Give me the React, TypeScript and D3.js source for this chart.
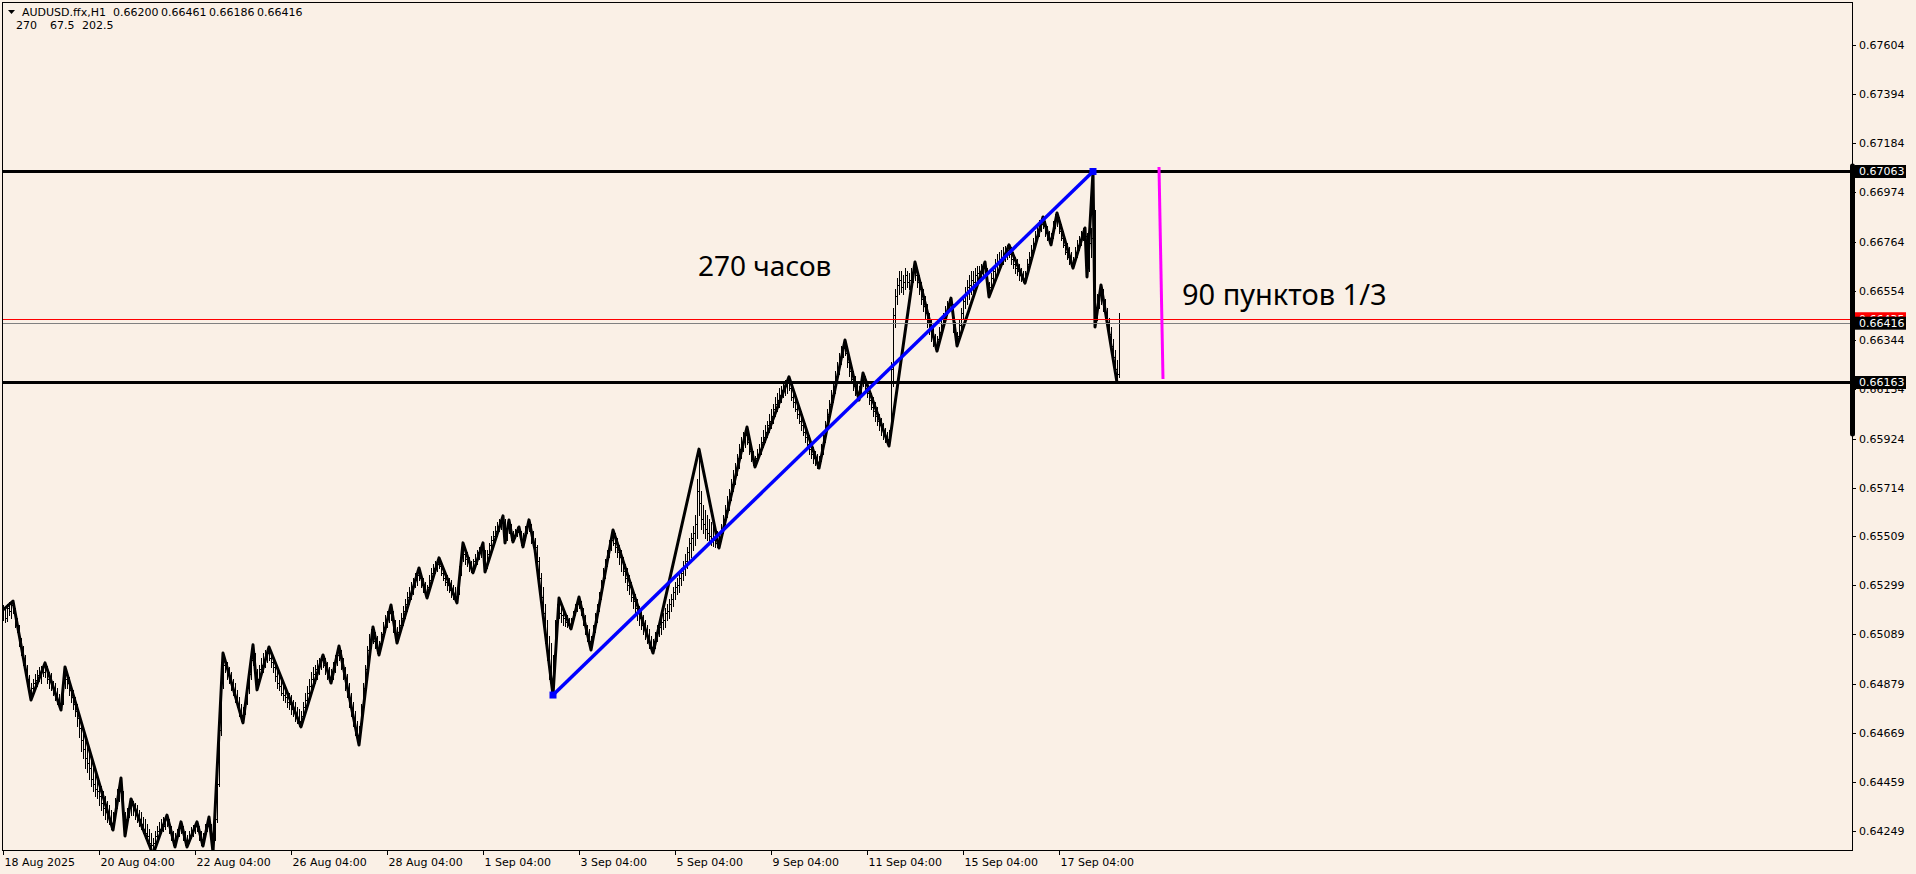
import React from "react";
import * as d3 from "d3";

// prices stored as points (1e-5) above BASE
const BASE = 0.64;
const firstOpen = 1180;

const barLow = [
1150,1140,1145,1170,1160,1180,1120,1100,1040,1000,
960,920,870,830,809,840,860,870,890,880,
910,905,880,860,850,830,810,790,780,766,
790,860,860,830,800,770,740,700,650,590,
560,520,500,470,440,420,400,390,360,340,
320,300,290,280,260,254,300,350,380,390,
300,229,280,310,320,320,300,290,270,260,
240,220,200,180,170,150,180,200,220,240,
250,260,270,240,210,190,182,210,230,240,
210,190,182,200,220,230,240,250,210,190,
186,220,250,260,190,160,210,290,440,660,
860,930,900,880,850,830,800,780,740,720,
711,750,790,840,900,960,900,852,880,910,
930,950,970,980,950,930,890,860,850,830,
810,800,780,770,750,740,720,710,700,694,
720,760,790,820,850,870,880,900,920,940,
950,920,900,890,881,900,930,960,980,940,
900,850,820,780,740,700,660,640,617,680,
760,840,920,980,1030,1050,1030,1010,1001,1030,
1070,1100,1120,1140,1150,1100,1070,1052,1080,1110,
1130,1160,1190,1220,1240,1260,1290,1300,1320,1290,
1270,1255,1244,1270,1300,1330,1350,1360,1370,1340,
1320,1300,1280,1270,1250,1240,1230,1223,1260,1340,
1400,1390,1380,1360,1355,1351,1380,1390,1410,1420,
1430,1355,1370,1410,1440,1470,1490,1510,1530,1540,
1560,1479,1490,1520,1490,1483,1500,1510,1515,1470,
1462,1490,1520,1530,1480,1460,1449,1380,1300,1220,
1150,1050,980,900,850,830,960,1100,1160,1140,
1130,1125,1120,1115,1112,1140,1170,1190,1200,1170,
1130,1090,1060,1040,1022,1060,1100,1140,1190,1240,
1290,1330,1380,1420,1450,1470,1440,1420,1390,1360,
1340,1310,1280,1260,1230,1200,1180,1150,1130,1110,
1090,1070,1050,1030,1020,1009,1030,1060,1080,1090,
1110,1120,1150,1160,1190,1210,1240,1260,1270,1300,
1320,1340,1370,1400,1420,1450,1470,1500,1600,1540,
1520,1500,1490,1480,1470,1465,1460,1460,1457,1490,
1520,1560,1590,1620,1660,1700,1730,1770,1800,1840,
1870,1890,1900,1860,1830,1810,1803,1830,1850,1860,
1890,1910,1930,1950,1970,1990,2020,2040,2060,2080,
2100,2110,2120,2130,2090,2060,2040,2010,1990,1960,
1940,1910,1890,1860,1840,1820,1810,1800,1798,1830,
1860,1910,1960,2000,2040,2080,2120,2160,2200,2240,
2270,2280,2230,2190,2160,2130,2110,2095,2088,2120,
2150,2120,2100,2070,2050,2020,2000,1980,1960,1940,
1920,1910,1900,1892,1940,2150,2400,2500,2540,2550,
2540,2560,2570,2560,2580,2590,2600,2570,2540,2500,
2470,2440,2400,2370,2340,2320,2305,2297,2330,2360,
2390,2420,2450,2470,2480,2380,2340,2319,2350,2390,
2440,2480,2500,2520,2540,2550,2560,2580,2590,2600,
2610,2620,2560,2528,2560,2590,2610,2630,2640,2660,
2670,2680,2690,2700,2670,2650,2630,2620,2600,2595,
2590,2587,2620,2650,2680,2710,2740,2770,2790,2810,
2820,2790,2770,2760,2750,2780,2820,2830,2800,2770,
2740,2710,2690,2670,2660,2651,2680,2700,2730,2750,
2770,2780,2613,2640,2700,2680,2400,2430,2480,2500,
2470,2440,2400,2350,2300,2250,2200,2163,2186
];

const barHigh = [
1215,1205,1220,1225,1228,1231,1200,1160,1130,1075,
1040,1000,960,915,880,900,920,935,950,955,
960,967,955,930,925,890,880,860,835,820,
900,950,925,905,870,850,820,790,750,720,
680,640,610,590,560,520,500,470,460,440,
420,400,380,360,340,330,390,430,450,476,
420,330,350,370,387,380,370,360,340,330,
310,300,280,260,240,220,250,270,290,300,
310,315,318,300,270,250,240,260,280,289,
270,250,235,250,265,275,285,289,270,250,
240,280,300,310,280,230,320,480,700,900,
1009,990,970,950,930,900,880,850,820,790,
780,830,880,940,1000,1044,1010,940,960,990,
1010,1020,1030,1035,1010,990,970,940,920,900,
880,870,850,840,830,810,800,780,770,760,
800,840,870,900,930,950,960,980,990,995,
1001,990,970,950,940,970,1000,1030,1039,1020,
990,950,920,880,840,800,760,720,700,790,
880,960,1040,1090,1110,1120,1100,1080,1060,1100,
1140,1170,1190,1200,1214,1190,1150,1120,1150,1180,
1210,1240,1270,1290,1310,1330,1350,1360,1372,1350,
1330,1310,1300,1340,1370,1390,1400,1410,1415,1400,
1380,1360,1340,1330,1320,1300,1290,1280,1380,1440,
1479,1460,1440,1420,1400,1410,1430,1450,1460,1470,
1479,1450,1450,1480,1510,1530,1550,1570,1580,1590,
1594,1580,1560,1577,1560,1530,1540,1545,1547,1530,
1520,1550,1570,1577,1560,1530,1500,1470,1420,1350,
1290,1220,1150,1080,1050,1000,1150,1220,1244,1210,
1190,1180,1170,1160,1160,1190,1220,1240,1248,1230,
1200,1170,1130,1110,1080,1130,1180,1220,1270,1320,
1370,1410,1450,1490,1520,1534,1520,1500,1470,1450,
1420,1390,1370,1340,1310,1280,1260,1240,1210,1190,
1170,1150,1130,1110,1080,1070,1100,1130,1150,1160,
1180,1200,1220,1240,1260,1290,1310,1330,1350,1370,
1400,1430,1460,1500,1520,1550,1600,1750,1879,1700,
1640,1620,1600,1580,1570,1560,1540,1530,1520,1560,
1600,1640,1680,1710,1750,1790,1820,1860,1900,1930,
1950,1965,1973,1940,1900,1870,1850,1880,1900,1930,
1960,1980,2000,2030,2050,2070,2100,2120,2140,2150,
2165,2175,2180,2187,2170,2140,2110,2090,2060,2040,
2010,1990,1960,1940,1910,1890,1870,1860,1850,1900,
1950,2000,2050,2090,2130,2170,2210,2250,2290,2320,
2335,2344,2320,2280,2240,2210,2190,2160,2150,2190,
2204,2190,2170,2150,2120,2100,2080,2060,2030,2010,
1990,1970,1950,1960,2250,2480,2560,2610,2640,2640,
2620,2650,2640,2630,2650,2660,2677,2650,2620,2590,
2560,2530,2500,2460,2430,2400,2370,2360,2400,2430,
2460,2490,2510,2520,2523,2500,2420,2380,2430,2480,
2530,2570,2600,2620,2640,2640,2650,2660,2660,2670,
2670,2677,2650,2590,2630,2660,2690,2710,2720,2730,
2740,2745,2748,2750,2740,2720,2700,2690,2670,2650,
2640,2640,2690,2720,2750,2780,2810,2840,2855,2860,
2869,2850,2830,2810,2800,2850,2880,2886,2870,2840,
2810,2780,2760,2740,2720,2700,2740,2770,2790,2810,
2820,2822,2800,2790,2820,3063,2900,2540,2560,2579,
2560,2520,2480,2440,2400,2350,2300,2260,2461
];

const barClose = [
1195,1160,1200,1190,1215,1190,1135,1110,1060,1020,
985,940,900,850,860,880,895,915,905,940,
930,945,900,910,870,860,830,800,790,805,
885,900,880,850,820,790,760,730,690,640,
600,560,540,520,470,450,430,420,400,370,
350,330,310,300,280,320,370,400,420,400,
320,300,330,350,360,340,330,310,300,280,
260,240,230,200,190,200,230,250,260,280,
270,300,290,250,230,200,220,250,270,250,
220,200,210,230,245,260,270,255,220,200,
230,270,290,270,200,220,300,450,680,880,
960,950,920,900,870,850,820,790,760,740,
760,810,860,920,980,990,920,900,940,960,
980,1000,1010,990,970,950,910,880,870,840,
830,820,800,790,770,760,740,730,720,740,
780,810,840,870,900,920,940,950,970,980,
960,940,920,900,920,950,990,1000,990,960,
920,880,840,800,760,720,680,660,690,770,
860,940,1020,1060,1080,1060,1040,1030,1050,1090,
1120,1150,1170,1180,1160,1120,1080,1100,1130,1160,
1190,1220,1250,1260,1290,1310,1320,1340,1330,1300,
1280,1270,1290,1320,1350,1370,1380,1390,1380,1350,
1330,1310,1300,1280,1270,1260,1250,1270,1360,1420,
1430,1410,1400,1380,1370,1400,1410,1440,1450,1460,
1440,1380,1430,1470,1490,1510,1530,1550,1570,1580,
1570,1500,1550,1540,1500,1510,1520,1530,1520,1480,
1500,1540,1550,1540,1500,1470,1460,1400,1330,1250,
1180,1080,1000,940,880,980,1120,1200,1180,1170,
1160,1140,1130,1125,1150,1180,1210,1220,1210,1180,
1150,1100,1080,1060,1070,1120,1160,1200,1250,1300,
1350,1390,1430,1470,1490,1480,1460,1440,1420,1400,
1360,1330,1300,1290,1250,1230,1200,1180,1160,1130,
1110,1090,1070,1050,1030,1060,1080,1100,1120,1140,
1150,1180,1190,1220,1240,1270,1290,1300,1330,1350,
1380,1400,1440,1480,1500,1520,1560,1700,1650,1580,
1560,1540,1520,1510,1500,1490,1480,1470,1500,1540,
1580,1620,1650,1690,1730,1760,1800,1840,1880,1900,
1930,1940,1910,1870,1840,1820,1840,1860,1880,1910,
1930,1950,1980,2000,2020,2050,2070,2090,2110,2130,
2140,2150,2160,2140,2100,2080,2050,2030,2000,1980,
1950,1930,1900,1880,1860,1840,1830,1820,1840,1880,
1930,1980,2030,2070,2110,2150,2190,2230,2270,2300,
2310,2290,2250,2210,2180,2150,2130,2110,2140,2180,
2170,2140,2120,2090,2060,2040,2020,2000,1980,1960,
1940,1930,1920,1950,2220,2450,2530,2580,2600,2570,
2590,2620,2590,2600,2620,2640,2620,2590,2560,2520,
2490,2460,2420,2390,2360,2340,2320,2350,2380,2410,
2440,2470,2490,2500,2490,2400,2360,2360,2410,2460,
2510,2540,2570,2580,2600,2590,2620,2630,2640,2630,
2650,2630,2570,2570,2610,2640,2660,2670,2690,2700,
2710,2720,2730,2710,2690,2670,2650,2640,2620,2610,
2600,2630,2670,2700,2730,2760,2790,2810,2830,2840,
2830,2800,2780,2770,2790,2840,2860,2850,2810,2780,
2750,2720,2700,2680,2670,2690,2720,2750,2770,2790,
2800,2790,2650,2760,2780,2700,2450,2500,2540,2550,
2490,2460,2420,2370,2320,2270,2220,2200,2416
];

// zigzag swing points: bar index and price (points)
const zzBar = [0,5,14,21,29,31,55,59,61,64,75,82,86,89,92,97,100,103,105,110,120,125,127,133,149,160,164,168,178,185,188,194,197,208,212,218,227,230,235,240,241,250,251,253,255,258,260,263,266,275,278,284,288,294,305,325,348,358,372,376,393,408,421,428,430,443,456,467,474,477,491,493,503,511,520,524,527,535,541,542,545,546,549,557];
const zzVal = [1193,1231,809,967,766,950,254,476,229,387,150,318,182,289,182,289,186,310,160,1009,711,1044,852,1035,694,1001,881,1039,617,1120,1001,1214,1052,1372,1244,1415,1223,1479,1351,1479,1355,1594,1479,1577,1483,1547,1462,1577,1449,830,1244,1112,1248,1022,1534,1009,1879,1457,1973,1803,2187,1798,2344,2088,2204,1892,2677,2297,2523,2319,2677,2528,2750,2587,2869,2750,2886,2651,2822,2613,3063,2400,2579,2163];

const timeTickBars = [0,48,96,144,192,240,288,336,384,432,480,528];
const timeTickLabels = ["18 Aug 2025","20 Aug 04:00","22 Aug 04:00","26 Aug 04:00","28 Aug 04:00","1 Sep 04:00","3 Sep 04:00","5 Sep 04:00","9 Sep 04:00","11 Sep 04:00","15 Sep 04:00","17 Sep 04:00"];
const priceTickLabels = ["0.67604","0.67394","0.67184","0.66974","0.66764","0.66554","0.66344","0.66134","0.65924","0.65714","0.65509","0.65299","0.65089","0.64879","0.64669","0.64459","0.64249"];

const levelPrices = [0.67063, 0.66163];
const bidPrice = 0.66416;
const askPrice = 0.66435;
const trendBars = [275, 545];
const trendPrices = [0.6483, 0.67063];
const rangeBars = [578, 580];
const rangePrices = [0.67082, 0.66178];

const headerSymbol = "AUDUSD.ffx,H1";
const headerOHLC = ["0.66200", "0.66461", "0.66186", "0.66416"];
const headerNumbers = ["270", "67.5", "202.5"];
const noteHours = "270 часов";
const notePips = "90 пунктов 1/3";

const W = 1916, H = 874;
const L = 2, R = 1852, T = 2, B = 850;
const BG = "#FAF0E6";
const AX_FONT = "'DejaVu Sans', Verdana, sans-serif";

export default function App() {
  const x = d3.scaleLinear().domain([0, 925]).range([3, 1853]);
  const y = d3.scaleLinear().domain([0.64169, 0.67786]).range([B, T]);
  const p = (v: number) => BASE + v / 1e5;

  // bars as filled pixel rects
  let barPath = "";
  for (let i = 0; i < barClose.length; i++) {
    const X = Math.round(x(i));
    const yh = Math.round(y(p(barHigh[i])));
    const yl = Math.round(y(p(barLow[i])));
    const open = i === 0 ? firstOpen : barClose[i - 1];
    const yo = Math.round(y(p(open)));
    const yc = Math.round(y(p(barClose[i])));
    barPath += `M${X},${yh}h1v${Math.max(1, yl - yh + 1)}h-1z`;
    barPath += `M${X - 1},${yo}h1v1h-1z`;
    barPath += `M${X + 1},${yc}h1v1h-1z`;
  }

  const zzLine = d3
    .line<number>()
    .x((_, i) => x(zzBar[i]))
    .y((v) => y(p(v)));
  const zzD = zzLine(zzVal) || "";

  const trendD =
    d3.line<number>().x((_, i) => x(trendBars[i])).y((v) => y(v))(trendPrices) || "";
  const rangeD =
    d3.line<number>().x((_, i) => x(rangeBars[i])).y((v) => y(v))(rangePrices) || "";

  const labelBox = (price: number, fill: string, key: string) => {
    const yc = y(price);
    return (
      <g key={key}>
        <rect x={1855} y={yc - 6.5} width={51} height={13} fill={fill} />
        <text x={1859} y={yc} dy="0.35em" fontFamily={AX_FONT} fontSize={11} fill="#fff">
          {price.toFixed(5)}
        </text>
      </g>
    );
  };

  return (
    <div style={{ position: "fixed", left: 0, top: 0, width: W, height: H, background: BG }}>
      <svg width={W} height={H} style={{ display: "block" }}>
        <defs>
          <clipPath id="plot">
            <rect x={L + 1} y={T + 1} width={R - L - 1} height={B - T - 1} />
          </clipPath>
        </defs>
        <rect x={0} y={0} width={W} height={H} fill={BG} />

        <g clipPath="url(#plot)">
          <path d={barPath} fill="#000" shapeRendering="crispEdges" />
          <path d={zzD} fill="none" stroke="#000" strokeWidth={3} strokeLinejoin="round" strokeLinecap="round" />
          {levelPrices.map((lp, i) => (
            <line key={"lv" + i} x1={L} x2={R} y1={y(lp)} y2={y(lp)} stroke="#000" strokeWidth={3} />
          ))}
          <line x1={L} x2={R} y1={Math.round(y(askPrice)) + 0.5} y2={Math.round(y(askPrice)) + 0.5} stroke="#FF0000" strokeWidth={1} shapeRendering="crispEdges" />
          <line x1={L} x2={R} y1={Math.round(y(bidPrice)) + 0.5} y2={Math.round(y(bidPrice)) + 0.5} stroke="#808080" strokeWidth={1} shapeRendering="crispEdges" />
          <path d={trendD} fill="none" stroke="#0000FF" strokeWidth={3.5} />
          {trendBars.map((b, i) => (
            <rect key={"tp" + i} x={x(b) - 3.5} y={y(trendPrices[i]) - 3.5} width={7} height={7} fill="#0000FF" />
          ))}
          <path d={rangeD} fill="none" stroke="#FF00FF" strokeWidth={3} />
          <text x={698} y={276} fontFamily="'Noto Sans', 'Open Sans', sans-serif" fontSize={28} fill="#000">
            {noteHours}
          </text>
          <text x={1182} y={305} fontFamily="'Noto Sans', 'Open Sans', sans-serif" fontSize={29} fill="#000">
            {notePips}
          </text>
        </g>

        {/* frame */}
        <rect x={L + 0.5} y={T + 0.5} width={R - L} height={B - T} fill="none" stroke="#000" strokeWidth={1} shapeRendering="crispEdges" />

        {/* header */}
        <path d="M8,10 L15,10 L11.5,14 Z" fill="#000" />
        <g fontFamily={AX_FONT} fontSize={11} fill="#000">
          <text x={22} y={12} dy="0.35em">{headerSymbol}</text>
          {headerOHLC.map((t, i) => (
            <text key={"h" + i} x={113 + i * 48} y={12} dy="0.35em">{t}</text>
          ))}
          {headerNumbers.map((t, i) => (
            <text key={"n" + i} x={[16, 50, 82][i]} y={25} dy="0.35em">{t}</text>
          ))}
        </g>

        {/* time axis */}
        <g fontFamily={AX_FONT} fontSize={11} fill="#000">
          {timeTickBars.map((b, i) => {
            const X = Math.round(x(b)) + 0.5;
            return (
              <g key={"tt" + i}>
                <line x1={X} x2={X} y1={B} y2={B + 5} stroke="#000" shapeRendering="crispEdges" />
                <text x={X + 1} y={862} dy="0.35em">{timeTickLabels[i]}</text>
              </g>
            );
          })}
        </g>

        {/* price axis */}
        <g fontFamily={AX_FONT} fontSize={11} fill="#000">
          {priceTickLabels.map((t, i) => {
            const Y = Math.round(y(parseFloat(t))) + 0.5;
            return (
              <g key={"pt" + i}>
                <line x1={R} x2={R + 4} y1={Y} y2={Y} stroke="#000" shapeRendering="crispEdges" />
                <text x={1859} y={Y} dy="0.35em">{t}</text>
              </g>
            );
          })}
        </g>
        {labelBox(askPrice, "#FF0000", "ask")}
        {labelBox(bidPrice, "#000000", "bid")}
        {levelPrices.map((lp, i) => labelBox(lp, "#000000", "lvl" + i))}
        <line x1={R + 0.5} x2={R + 0.5} y1={166} y2={434} stroke="#000" strokeWidth={5} strokeLinecap="round" />
      </svg>
    </div>
  );
}
